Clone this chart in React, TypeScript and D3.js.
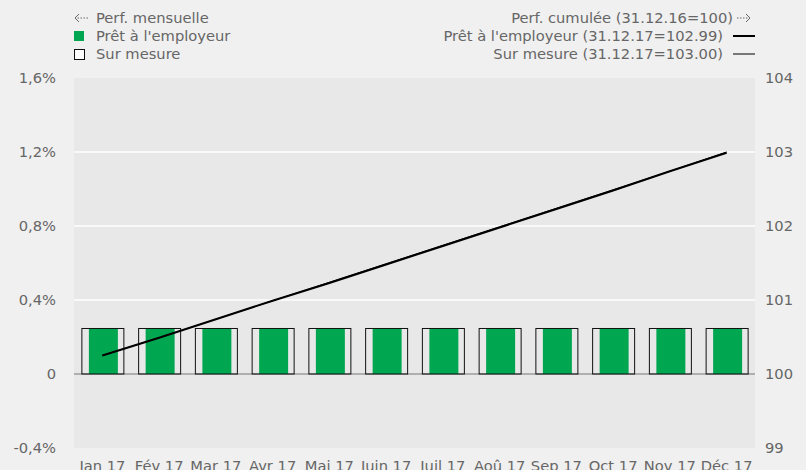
import * as d3 from "d3";
import React from "react";

const months = ["Jan 17", "Fév 17", "Mar 17", "Avr 17", "Mai 17", "Juin 17", "Juil 17", "Aoû 17", "Sep 17", "Oct 17", "Nov 17", "Déc 17"];
// monthly performance in %
const monthlyPret = [0.245, 0.245, 0.245, 0.245, 0.245, 0.245, 0.245, 0.245, 0.245, 0.245, 0.245, 0.245];
const monthlySur = [0.246, 0.246, 0.246, 0.246, 0.246, 0.246, 0.246, 0.246, 0.246, 0.246, 0.246, 0.246];
// cumulated performance, base 100
const cumulPret = [100.25, 100.49, 100.74, 100.99, 101.23, 101.48, 101.73, 101.98, 102.23, 102.48, 102.74, 102.99];
const cumulSur = [100.25, 100.49, 100.74, 100.99, 101.24, 101.49, 101.74, 101.99, 102.24, 102.49, 102.74, 103.0];
const leftTicks = [-0.4, 0, 0.4, 0.8, 1.2, 1.6];
const rightTicks = [99, 100, 101, 102, 103, 104];

const W = 806;
const H = 470;
const margin = { top: 78, right: 51, bottom: 22, left: 74 };
const font = "DejaVu Sans, Verdana, sans-serif";
const grey = "#666";
const fs = 14.7;

// small dashed arrow used in the legend
const Arrow = ({ x, y, dir }: { x: number; y: number; dir: number }) => {
  const tip = dir > 0 ? x + 13 : x;
  const tail = dir > 0 ? x : x + 13;
  return (
    <g stroke={grey} fill="none" strokeWidth={1}>
      <line x1={tail} x2={tip - dir * 2} y1={y} y2={y} strokeDasharray="1.5,1.5" />
      <path d={`M${tip - dir * 4},${y - 4} L${tip},${y} L${tip - dir * 4},${y + 4}`} />
    </g>
  );
};

export default function App() {
  const x = d3.scaleBand().domain(months).range([margin.left, W - margin.right]).paddingInner(0.26).paddingOuter(0.13);
  const yL = d3.scaleLinear().domain([-0.4, 1.6]).range([H - margin.bottom, margin.top]);
  const yR = d3.scaleLinear().domain([99, 104]).range([H - margin.bottom, margin.top]);
  const fmt = (v: number) => (v === 0 ? "0" : v.toFixed(1).replace(".", ",") + "%");
  const cx = (m: string) => (x(m) as number) + x.bandwidth() / 2;
  const line = d3.line<number>().x((_, i) => cx(months[i])).y((d) => yR(d));
  const bw = x.bandwidth();
  const gw = bw * 0.69;

  return (
    <div style={{ position: "absolute", left: 0, top: 0 }}>
      <svg width={W} height={H} style={{ display: "block", background: "#f0f0f0" }} fontFamily={font}>
        <rect x={margin.left} y={margin.top} width={W - margin.left - margin.right} height={H - margin.top - margin.bottom} fill="#e8e8e8" />
        {leftTicks.filter((t) => t > 0 && t < 1.6).map((t) => (
          <line key={t} x1={margin.left} x2={W - margin.right} y1={yL(t)} y2={yL(t)} stroke="#fff" strokeWidth={1.5} />
        ))}
        <line x1={margin.left} x2={W - margin.right} y1={yL(0)} y2={yL(0)} stroke="#777" strokeWidth={1} />
        {leftTicks.map((t) => (
          <text key={t} x={56} y={yL(t)} dy="0.35em" textAnchor="end" fontSize={fs} fill={grey}>{fmt(t)}</text>
        ))}
        {rightTicks.map((t) => (
          <text key={t} x={765} y={yR(t)} dy="0.35em" fontSize={fs} fill={grey}>{t}</text>
        ))}
        {months.map((m, i) => (
          <g key={m}>
            <rect x={(x(m) as number) + (bw - gw) / 2 + 1} y={yL(monthlyPret[i])} width={gw} height={yL(0) - yL(monthlyPret[i])} fill="#00a650" />
            <rect x={(x(m) as number) + 0.5} y={yL(monthlySur[i])} width={bw} height={yL(0) - yL(monthlySur[i])} fill="none" stroke="#111" strokeWidth={1} />
            <text x={cx(m)} y={471} textAnchor="middle" fontSize={fs} fill={grey}>{m}</text>
          </g>
        ))}
        <path d={line(cumulSur) || ""} fill="none" stroke="#000" strokeWidth={1} />
        <path d={line(cumulPret) || ""} fill="none" stroke="#000" strokeWidth={2} />

        {/* legend left */}
        <Arrow x={75} y={18} dir={-1} />
        <text x={96} y={23} fontSize={fs} fill={grey}>Perf. mensuelle</text>
        <rect x={74} y={31} width={10} height={10} fill="#00a650" />
        <text x={96} y={41} fontSize={fs} fill={grey}>Prêt à l'employeur</text>
        <rect x={74.5} y={49.5} width={10} height={10} fill="#fff" stroke="#111" />
        <text x={96} y={59} fontSize={fs} fill={grey}>Sur mesure</text>

        {/* legend right */}
        <text x={733} y={23} fontSize={fs} fill={grey} textAnchor="end">Perf. cumulée (31.12.16=100)</text>
        <Arrow x={737} y={18} dir={1} />
        <text x={723} y={41} fontSize={fs} fill={grey} textAnchor="end">Prêt à l'employeur (31.12.17=102.99)</text>
        <line x1={733} x2={755} y1={36} y2={36} stroke="#000" strokeWidth={2} />
        <text x={723} y={59} fontSize={fs} fill={grey} textAnchor="end">Sur mesure (31.12.17=103.00)</text>
        <line x1={733} x2={755} y1={54} y2={54} stroke="#000" strokeWidth={1} />
      </svg>
    </div>
  );
}
